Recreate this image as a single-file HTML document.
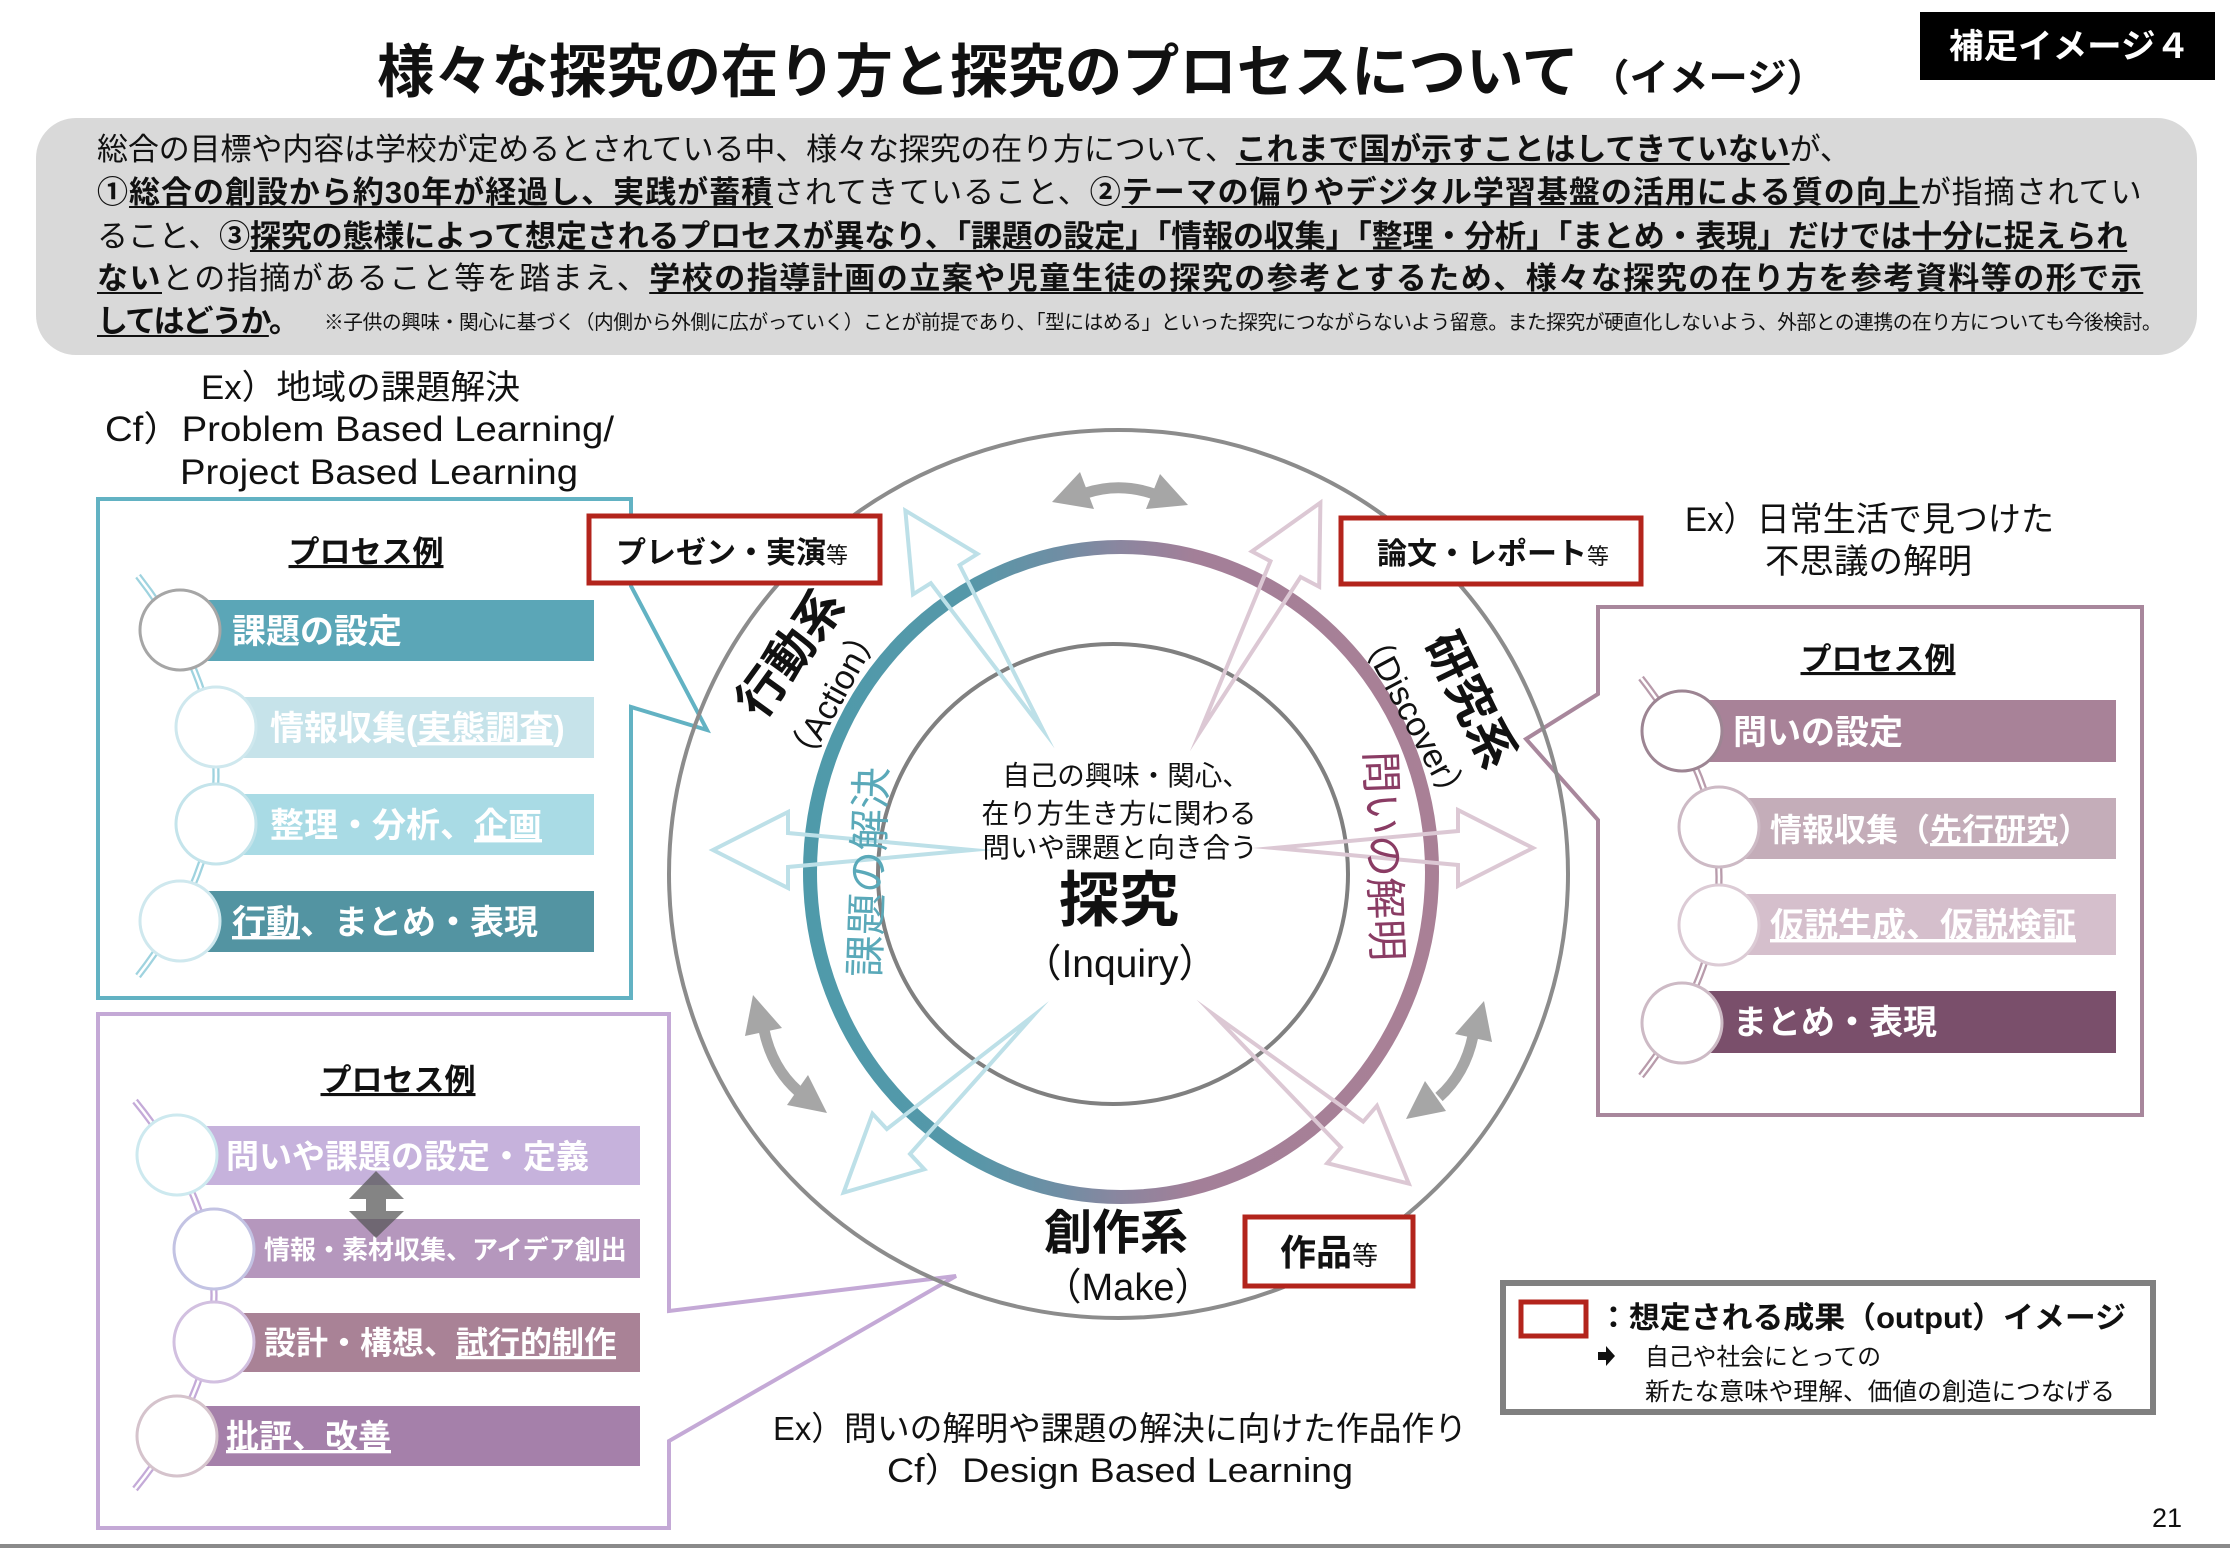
<!DOCTYPE html>
<html lang="ja"><head><meta charset="utf-8">
<style>
html,body{margin:0;padding:0;background:#fff;}
body{width:2230px;height:1548px;position:relative;overflow:hidden;font-family:"Liberation Sans","Noto Sans CJK JP",sans-serif;}
svg{position:absolute;left:0;top:0;}
.p{position:absolute;left:97px;white-space:nowrap;font-size:31px;line-height:31px;color:#111;}
.p b{font-weight:bold;}
.p u{text-decoration:underline;text-decoration-thickness:2px;text-underline-offset:3px;}
.s{position:absolute;left:324px;top:313px;white-space:nowrap;font-size:19.7px;line-height:20px;color:#111;letter-spacing:-0.4px;}
</style></head>
<body>
<svg width="2230" height="1548" viewBox="0 0 2230 1548" font-family="'Liberation Sans','Noto Sans CJK JP',sans-serif">
<defs>
<linearGradient id="rg" gradientUnits="userSpaceOnUse" x1="810" y1="0" x2="1432" y2="0">
<stop offset="0" stop-color="#4f9aaa"/><stop offset="0.25" stop-color="#5598a9"/><stop offset="0.4" stop-color="#6f8ea4"/><stop offset="0.5" stop-color="#8b869f"/><stop offset="0.62" stop-color="#a37f98"/><stop offset="1" stop-color="#a98096"/>
</linearGradient>
</defs>

<!-- Title -->
<text x="377" y="92" font-size="58" font-weight="bold" textLength="1202" lengthAdjust="spacingAndGlyphs" fill="#111">様々な探究の在り方と探究のプロセスについて</text>
<text x="1590" y="91" font-size="38" font-weight="bold" textLength="236" lengthAdjust="spacingAndGlyphs" fill="#111">（イメージ）</text>
<rect x="1920" y="12" width="295" height="68" fill="#000"/>
<text x="1949" y="58" font-size="34" font-weight="bold" fill="#fff" textLength="241" lengthAdjust="spacingAndGlyphs">補足イメージ４</text>

<!-- gray box -->
<rect x="36" y="118" width="2161" height="237" rx="40" ry="40" fill="#d9d9d9"/>

<!-- left top texts -->
<text x="201" y="399" font-size="34" textLength="319" lengthAdjust="spacingAndGlyphs" fill="#111">Ex）地域の課題解決</text>
<text x="105" y="441" font-size="35" textLength="509" lengthAdjust="spacingAndGlyphs" fill="#111">Cf）Problem Based Learning/</text>
<text x="180" y="484" font-size="35" textLength="398" lengthAdjust="spacingAndGlyphs" fill="#111">Project Based Learning</text>

<!-- right top texts -->
<text x="1685" y="531" font-size="34" textLength="369" lengthAdjust="spacingAndGlyphs" fill="#111">Ex）日常生活で見つけた</text>
<text x="1765" y="573" font-size="34" textLength="207" lengthAdjust="spacingAndGlyphs" fill="#111">不思議の解明</text>

<!-- bottom texts -->
<text x="773" y="1440" font-size="33" textLength="694" lengthAdjust="spacingAndGlyphs" fill="#111">Ex）問いの解明や課題の解決に向けた作品作り</text>
<text x="887" y="1482" font-size="34" textLength="466" lengthAdjust="spacingAndGlyphs" fill="#111">Cf）Design Based Learning</text>
<text x="2152" y="1527" font-size="27" fill="#111">21</text>
<rect x="0" y="1544" width="2230" height="4" fill="#8a8a8a"/>

<!-- Box outlines with callouts -->
<path d="M98,499 H631 V586 L707,730 L631,707 V998 H98 Z" fill="none" stroke="#62b2c3" stroke-width="4" stroke-linejoin="miter"/>
<path d="M98,1014 H669 V1311 L956,1276 L669,1441 V1528 H98 Z" fill="none" stroke="#c4a9d6" stroke-width="4"/>
<path d="M1598,607 H2142 V1115 H1598 V820 L1526,739 L1598,694 Z" fill="none" stroke="#a8879c" stroke-width="4"/>

<!-- Main circles -->
<ellipse cx="1118.5" cy="874" rx="449.5" ry="444" fill="none" stroke="#8c8c8c" stroke-width="4"/>
<ellipse cx="1113" cy="874" rx="235" ry="230" fill="none" stroke="#808080" stroke-width="4"/>
<ellipse cx="1121" cy="872" rx="311" ry="325" fill="none" stroke="url(#rg)" stroke-width="14"/>

<!-- thin outline arrows -->
<g fill="none" stroke="#bde0e8" stroke-width="4" stroke-linejoin="miter" stroke-miterlimit="20">
<polygon points="0,0 184,-17 184,-38 259,0 184,38 184,17" transform="translate(1043,730) rotate(-122.1)"/>
<polygon points="0,0 184,-17 184,-38 259,0 184,38 184,17" transform="translate(972,850) rotate(180)"/>
<polygon points="0,0 184,-17 184,-38 259,0 184,38 184,17" transform="translate(1033,1016) rotate(137)"/>
</g>
<g fill="none" stroke="#dcc8d4" stroke-width="4" stroke-linejoin="miter" stroke-miterlimit="20">
<polygon points="0,0 184,-17 184,-38 259,0 184,38 184,17" transform="translate(1200,732) rotate(-62.3)"/>
<polygon points="0,0 184,-17 184,-38 259,0 184,38 184,17" transform="translate(1274,848) rotate(0)"/>
<polygon points="0,0 184,-17 184,-38 259,0 184,38 184,17" transform="translate(1213,1014) rotate(40.9)"/>
</g>

<!-- gray double arrows -->
<g fill="#a6a6a6">
<path d="M1086,493 Q1120,482 1154,494" fill="none" stroke="#a6a6a6" stroke-width="11"/>
<polygon points="1052,502 1080,472 1094,509"/>
<polygon points="1188,505 1160,474 1146,509"/>
<path d="M764,1030 Q772,1068 798,1091" fill="none" stroke="#a6a6a6" stroke-width="11"/>
<polygon points="753,995 745,1036 782,1028"/>
<polygon points="827,1113 787,1105 808,1075"/>
<path d="M1473,1036 Q1465,1074 1439,1097" fill="none" stroke="#a6a6a6" stroke-width="11"/>
<polygon points="1484,1001 1492,1042 1455,1034"/>
<polygon points="1406,1119 1446,1111 1425,1081"/>
</g>

<!-- center texts -->
<g fill="#111" text-anchor="middle">
<text x="1126" y="785" font-size="27.5">自己の興味・関心、</text>
<text x="1119" y="823" font-size="27.5">在り方生き方に関わる</text>
<text x="1120" y="857" font-size="27.5">問いや課題と向き合う</text>
<text x="1119" y="921" font-size="60" font-weight="bold">探究</text>
<text x="1120" y="977" font-size="39">（Inquiry）</text>
<text x="1116" y="1249" font-size="48" font-weight="bold">創作系</text>
<text x="1128" y="1300" font-size="38">（Make）</text>
<text transform="translate(790,653) rotate(-54)" x="0" y="17" font-size="48" font-weight="bold">行動系</text>
<text transform="translate(833,695) rotate(-61)" x="0" y="12" font-size="34">（Action）</text>
<text transform="translate(1471,700) rotate(64)" x="0" y="17" font-size="48" font-weight="bold">研究系</text>
<text transform="translate(1414,717) rotate(62)" x="0" y="12" font-size="34">（Discover）</text>
<text transform="translate(868,872) rotate(-88)" x="0" y="15" font-size="42" fill="#5aa9b9">課題の解決</text>
<text transform="translate(1384,856) rotate(88)" x="0" y="15" font-size="42" fill="#8a3c64">問いの解明</text>
</g>

<!-- red output boxes -->
<g fill="#fff" stroke="#b3241c" stroke-width="5">
<rect x="589" y="516" width="291" height="67"/>
<rect x="1341" y="518" width="300" height="66"/>
<rect x="1245" y="1217" width="168" height="69"/>
</g>
<text x="616" y="563" fill="#111"><tspan font-size="30" font-weight="bold">プレゼン・実演</tspan><tspan font-size="22">等</tspan></text>
<text x="1377" y="564" fill="#111"><tspan font-size="30" font-weight="bold">論文・レポート</tspan><tspan font-size="22">等</tspan></text>
<text x="1280" y="1265" fill="#111"><tspan font-size="36" font-weight="bold">作品</tspan><tspan font-size="26">等</tspan></text>

<!-- LEFT teal process -->
<text x="366" y="563" font-size="31" font-weight="bold" text-anchor="middle" text-decoration="underline" fill="#111">プロセス例</text>
<path d="M138,576 Q294,776 138,976" fill="none" stroke="#9fd3df" stroke-width="7"/>
<path d="M138,576 Q294,776 138,976" fill="none" stroke="#fff" stroke-width="2.5"/>
<rect x="180" y="600" width="414" height="61" fill="#5ba6b7"/>
<rect x="216" y="697" width="378" height="61" fill="#c6e3ea"/>
<rect x="216" y="794" width="378" height="61" fill="#a9dbe5"/>
<rect x="180" y="891" width="414" height="61" fill="#5394a2"/>
<g fill="#fff" stroke-width="3">
<circle cx="180" cy="630" r="40" stroke="#a6a6a6"/>
<circle cx="216" cy="727" r="40" stroke="#cfe8ee"/>
<circle cx="216" cy="824" r="40" stroke="#c4e4eb"/>
<circle cx="180" cy="921" r="40" stroke="#cfe8ee"/>
</g>
<g fill="#fff" font-weight="bold" font-size="34">
<text x="232" y="643">課題の設定</text>
<text x="270" y="740">情報収集(<tspan text-decoration="underline">実態調査</tspan>)</text>
<text x="270" y="837">整理・分析、<tspan text-decoration="underline">企画</tspan></text>
<text x="232" y="934"><tspan text-decoration="underline">行動</tspan>、まとめ・表現</text>
</g>

<!-- RIGHT pink process -->
<text x="1878" y="670" font-size="31" font-weight="bold" text-anchor="middle" text-decoration="underline" fill="#111">プロセス例</text>
<path d="M1641,678 Q1797,877 1641,1076" fill="none" stroke="#b89bab" stroke-width="7"/>
<path d="M1641,678 Q1797,877 1641,1076" fill="none" stroke="#fff" stroke-width="2.5"/>
<rect x="1682" y="700" width="434" height="62" fill="#a88298"/>
<rect x="1719" y="798" width="397" height="61" fill="#c4adb9"/>
<rect x="1719" y="894" width="397" height="61" fill="#d5bfcc"/>
<rect x="1682" y="991" width="434" height="62" fill="#7a4f6b"/>
<g fill="#fff" stroke-width="3">
<circle cx="1682" cy="731" r="40" stroke="#9d8593"/>
<circle cx="1719" cy="827" r="40" stroke="#cdbac5"/>
<circle cx="1719" cy="925" r="40" stroke="#dccbd5"/>
<circle cx="1682" cy="1023" r="40" stroke="#cdbac5"/>
</g>
<g fill="#fff" font-weight="bold">
<text x="1733" y="744" font-size="34">問いの設定</text>
<text x="1770" y="841" font-size="32">情報収集（<tspan text-decoration="underline">先行研究</tspan>）</text>
<text x="1770" y="937" font-size="34" text-decoration="underline">仮説生成、仮説検証</text>
<text x="1733" y="1034" font-size="34">まとめ・表現</text>
</g>

<!-- PURPLE process -->
<text x="398" y="1091" font-size="31" font-weight="bold" text-anchor="middle" text-decoration="underline" fill="#111">プロセス例</text>
<path d="M135,1101 Q293,1295 135,1489" fill="none" stroke="#c4aad8" stroke-width="7"/>
<path d="M135,1101 Q293,1295 135,1489" fill="none" stroke="#fff" stroke-width="2.5"/>
<rect x="177" y="1126" width="463" height="59" fill="#c6b2dc"/>
<rect x="214" y="1219" width="426" height="59" fill="#b597bd"/>
<rect x="214" y="1313" width="426" height="59" fill="#a98296"/>
<rect x="177" y="1406" width="463" height="60" fill="#a580aa"/>
<g fill="#fff" stroke-width="3">
<circle cx="177" cy="1155" r="40" stroke="#cde9ef"/>
<circle cx="214" cy="1249" r="40" stroke="#c3c3e3"/>
<circle cx="214" cy="1342" r="40" stroke="#d2c0e0"/>
<circle cx="177" cy="1436" r="40" stroke="#d5c3cc"/>
</g>
<g fill="#fff" font-weight="bold">
<text x="226" y="1168" font-size="33">問いや課題の設定・定義</text>
<text x="264" y="1259" font-size="26">情報・素材収集、アイデア創出</text>
<text x="264" y="1354" font-size="32">設計・構想、<tspan text-decoration="underline">試行的制作</tspan></text>
<text x="226" y="1448" font-size="33" text-decoration="underline">批評、改善</text>
</g>
<polygon points="376,1171 404,1199 386,1199 386,1211 404,1211 376,1238 349,1211 366,1211 366,1199 349,1199" fill="#555" fill-opacity="0.72"/>

<!-- Legend -->
<rect x="1503" y="1283" width="650" height="129" fill="#fff" stroke="#808080" stroke-width="6"/>
<rect x="1521" y="1302" width="65" height="34" fill="#fff" stroke="#b3241c" stroke-width="5"/>
<text x="1598" y="1328" font-size="30" font-weight="bold" textLength="528" lengthAdjust="spacingAndGlyphs" fill="#111">：想定される成果（output）イメージ</text>
<polygon points="1598,1352 1606,1352 1606,1346 1615,1356 1606,1366 1606,1360 1598,1360" fill="#111"/>
<text x="1645" y="1365" font-size="24" textLength="236" lengthAdjust="spacingAndGlyphs" fill="#111">自己や社会にとっての</text>
<text x="1645" y="1400" font-size="24.5" textLength="470" lengthAdjust="spacingAndGlyphs" fill="#111">新たな意味や理解、価値の創造につなげる</text>
</svg>

<div class="p" style="top:134px;letter-spacing:-0.13px">総合の目標や内容は学校が定めるとされている中、様々な探究の在り方について、<u><b>これまで国が示すことはしてきていない</b></u>が、</div>
<div class="p" style="top:177px;letter-spacing:0.98px"><b>①</b><u><b>総合の創設から約30年が経過し、実践が蓄積</b></u>されてきていること、<b>②</b><u><b>テーマの偏りやデジタル学習基盤の活用による質の向上</b></u>が指摘されてい</div>
<div class="p" style="top:221px;letter-spacing:-0.16px">ること、<b>③</b><u><b>探究の態様によって想定されるプロセスが異なり、「課題の設定」「情報の収集」「整理・分析」「まとめ・表現」だけでは十分に捉えられ</b></u></div>
<div class="p" style="top:263px;letter-spacing:1.5px"><u><b>ない</b></u>との指摘があること等を踏まえ、<u><b>学校の指導計画の立案や児童生徒の探究の参考とするため、様々な探究の在り方を参考資料等の形で示</b></u></div>
<div class="p" style="top:306px;letter-spacing:-2px"><u><b>してはどうか</b></u><b>。</b></div>
<div class="s">※子供の興味・関心に基づく（内側から外側に広がっていく）ことが前提であり、「型にはめる」といった探究につながらないよう留意。また探究が硬直化しないよう、外部との連携の在り方についても今後検討。</div>
</body></html>
